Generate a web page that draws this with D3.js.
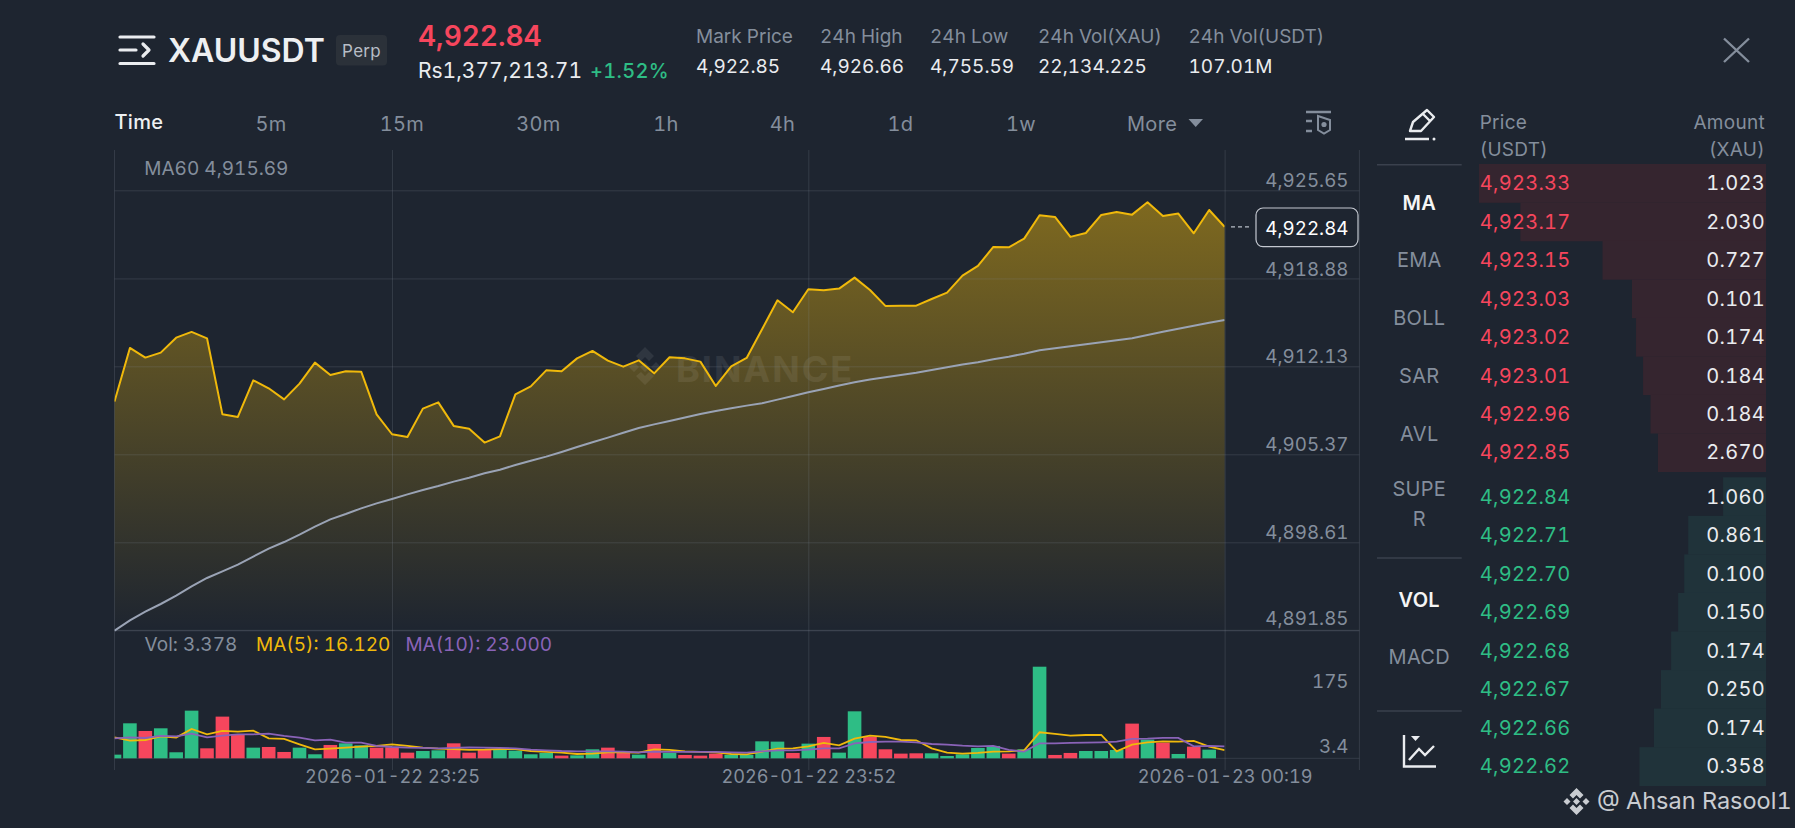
<!DOCTYPE html>
<html><head><meta charset="utf-8">
<script src="https://cdn.jsdelivr.net/npm/d3@7"></script>
<style>html,body{margin:0;padding:0;background:#1e2530;overflow:hidden}svg{display:block}text{font-family:Inter,"Noto Sans",sans-serif;font-feature-settings:"tnum";letter-spacing:.015em}</style>
</head><body><svg id="c" width="1795" height="828"></svg>
<script>
const price=[4909.42,4913.54,4912.80,4913.18,4914.33,4914.77,4914.28,4908.44,4908.24,4911.05,4910.44,4909.59,4910.80,4912.41,4911.46,4911.75,4911.72,4908.44,4906.91,4906.70,4908.88,4909.36,4907.55,4907.34,4906.27,4906.75,4909.98,4910.59,4911.82,4911.75,4912.74,4913.31,4912.57,4912.10,4912.59,4911.59,4912.82,4912.74,4912.49,4910.62,4912.13,4912.77,4914.97,4917.20,4916.28,4918.05,4917.97,4918.10,4918.94,4917.99,4916.77,4916.79,4916.79,4917.30,4917.79,4919.10,4919.84,4921.30,4921.27,4921.94,4923.73,4923.60,4922.07,4922.37,4923.76,4923.99,4923.78,4924.73,4923.68,4923.86,4922.35,4924.14,4922.84];
const ma60=[4891.82,4892.61,4893.28,4893.87,4894.51,4895.23,4895.87,4896.38,4896.89,4897.51,4898.12,4898.63,4899.20,4899.81,4900.37,4900.78,4901.22,4901.60,4901.94,4902.29,4902.63,4902.93,4903.27,4903.57,4903.91,4904.19,4904.55,4904.88,4905.19,4905.55,4905.93,4906.29,4906.65,4907.03,4907.39,4907.67,4907.93,4908.19,4908.47,4908.70,4908.90,4909.11,4909.29,4909.57,4909.85,4910.13,4910.39,4910.65,4910.90,4911.11,4911.29,4911.46,4911.64,4911.85,4912.05,4912.26,4912.44,4912.67,4912.87,4913.10,4913.36,4913.51,4913.67,4913.82,4913.97,4914.13,4914.28,4914.54,4914.79,4915.02,4915.25,4915.48,4915.69];
const vol=[7.1,68.0,53.1,58.3,11.7,92.6,19.4,81.0,45.3,20.7,22.0,12.3,20.7,7.8,25.9,29.1,25.3,20.7,21.4,11.0,14.2,15.5,29.1,11.0,17.5,17.5,14.9,7.8,10.4,5.2,5.8,17.5,20.7,14.2,7.1,27.8,10.4,6.5,5.2,9.1,6.5,6.5,33.0,32.4,10.4,28.5,41.5,11.0,91.3,42.1,17.5,9.1,9.7,9.7,4.5,7.8,20.1,24.0,9.1,17.5,178,6.5,10.4,14.2,14.2,16.2,67.4,36.3,30.4,8.4,22.7,16.8];
const volUp=[1,1,0,1,1,1,0,0,0,1,0,0,1,1,0,1,1,0,0,0,1,1,0,0,0,1,1,1,1,0,1,1,0,0,1,0,1,0,0,0,1,1,1,1,0,1,0,1,1,0,0,0,0,1,1,1,1,1,0,1,1,0,0,1,1,1,0,1,0,1,0,1];
const ma5=[40.8,34.3,35.6,42.7,40.2,57.0,46.6,53.1,51.8,53.8,38.9,37.6,27.2,17.5,18.8,20.7,22.7,24.0,27.2,24.0,20.7,18.8,18.1,16.2,16.8,18.1,18.1,14.2,12.3,11.0,8.4,9.1,11.7,11.7,11.0,17.5,16.2,13.6,12.3,11.7,8.4,7.8,13.0,18.8,19.4,23.3,29.8,25.3,38.2,44.0,41.5,35.6,35.0,19.4,11.0,9.1,10.4,13.0,13.6,15.5,50.5,47.3,44.0,45.3,45.3,13.6,26.6,31.1,33.0,32.4,33.7,22.7,16.12];
const ma10=[38.9,40.8,39.5,43.4,42.7,47.9,40.8,44.0,46.6,46.6,47.9,43.4,40.2,35.0,36.3,30.4,30.4,24.0,22.0,20.7,20.1,19.4,20.1,21.4,20.7,20.1,19.4,16.8,15.5,14.2,13.6,13.6,13.6,13.0,11.7,13.0,12.3,12.3,12.3,12.3,11.7,11.0,13.6,15.5,15.5,16.8,19.4,19.4,29.1,31.7,32.4,32.4,31.1,27.8,26.6,24.6,23.3,24.0,16.2,13.0,29.1,29.1,29.8,30.4,31.1,32.4,37.6,38.2,39.5,39.5,23.3,24.0,23.0];
const priceTicks=[4925.65,4918.88,4912.13,4905.37,4898.61,4891.85];
const timeTickIdx=[18,45,72];
const timeLabels=["2026-01-22 23:25","2026-01-22 23:52","2026-01-23 00:19"];
const askPrices=["4,923.33","4,923.17","4,923.15","4,923.03","4,923.02","4,923.01","4,922.96","4,922.85"];
const askAmounts=[1.023,2.030,0.727,0.101,0.174,0.184,0.184,2.670];
const bidPrices=["4,922.84","4,922.71","4,922.70","4,922.69","4,922.68","4,922.67","4,922.66","4,922.62"];
const bidAmounts=[1.060,0.861,0.100,0.150,0.174,0.250,0.174,0.358];
const intervals=["5m","15m","30m","1h","4h","1d","1w"];
const intervalX=[271,402,538.5,666,782.5,900.5,1021];
const stats=[["Mark Price","4,922.85"],["24h High","4,926.66"],["24h Low","4,755.59"],["24h Vol(XAU)","22,134.225"],["24h Vol(USDT)","107.01M"]];
const statX=[696,820,930,1038,1188.5];
const indicators=[["MA",202.3,1],["EMA",260,0],["BOLL",317.7,0],["SAR",375.7,0],["AVL",433.3,0],["SUPE",489,0],["R",519,0],["VOL",599.3,1],["MACD",657,0]];

const GREY="#848e9c",GRID="rgba(132,142,156,0.22)",RED="#f6465d",GREEN="#2ebd85",GOLD="#f0b90b",WHITE="#eaecef";
const svg=d3.select("#c");
const L=114.5,R=1224.6,RB=1359.4;
const x=d3.scaleLinear().domain([0,72]).range([L,R]);
const y=d3.scaleLinear().domain([4925.65,4891.85]).range([190.3,630.3]);
const yv=d3.scaleLinear().domain([0,178]).range([758.3,666.7]);
const defs=svg.append("defs");
const g=defs.append("linearGradient").attr("id","ga").attr("gradientUnits","userSpaceOnUse").attr("x1",0).attr("x2",0).attr("y1",210).attr("y2",630);
g.append("stop").attr("offset",0).attr("stop-color",GOLD).attr("stop-opacity",.45);
g.append("stop").attr("offset",1).attr("stop-color",GOLD).attr("stop-opacity",0);
defs.append("clipPath").attr("id","cl").append("rect").attr("x",L).attr("y",140).attr("width",R-L).attr("height",640);

function T(s,px,py,o={}){const t=svg.append("text").attr("x",px).attr("y",py).attr("dy",".36em").attr("text-anchor",o.a||"start").attr("font-size",o.s||19).attr("font-weight",o.w||400).attr("fill",o.c||GREY).text(s);if(o.ls!==undefined)t.style("letter-spacing",o.ls);return t;}

// chart
svg.append("path").datum(price).attr("fill","url(#ga)").attr("d",d3.area().x((d,i)=>x(i)).y0(y(4891.85)).y1(d=>y(d)));
// watermark
const wm=svg.append("g").attr("fill","#fff").attr("opacity",.075);
wm.append("path").attr("d","M645 347l9 9-5 5-4-4-4 4-5-5zM629 367l5-5 5 5-5 5zM661 367l-5-5-5 5 5 5zM645 362l5 5-5 5-5-5zM636 376l5-4 4 4 4-4 5 4-9 9z");
wm.append("text").attr("x",676).attr("y",369).attr("dy",".36em").attr("font-size",36).attr("font-weight",700).style("letter-spacing","2px").text("BINANCE");

// axes: horizontal price grid + labels
const ay=svg.append("g").attr("transform",`translate(${L},0)`).call(d3.axisRight(y).tickValues(priceTicks).tickSize(RB-L).tickFormat(d3.format(",.2f")));
ay.select(".domain").remove();
ay.selectAll("line").attr("stroke",GRID);
ay.selectAll("text").attr("x",1348.5-L).attr("dy",(d,i)=>i===5?"-.32em":"-.18em").attr("text-anchor","end").attr("font-size",18.8).attr("fill",GREY).attr("font-family","Inter").style("letter-spacing","0");
// time axis with vertical grid
const ax=svg.append("g").attr("transform","translate(0,770)").call(d3.axisBottom(x).tickValues(timeTickIdx).tickSize(-620).tickPadding(-1).tickFormat((d,i)=>timeLabels[i]));
ax.select(".domain").remove();
ax.selectAll("line").attr("stroke",GRID);
ax.selectAll("text").attr("y",0).attr("dy",".36em").attr("transform","translate(0,6.7)").attr("font-size",18.2).attr("fill",GREY).attr("font-family","Inter").style("letter-spacing","0");
[[L,L,150,770],[RB,RB,150,770],[L,RB,758.3,758.3],[L,RB,630.3,630.3]].forEach(a=>svg.append("line").attr("x1",a[0]).attr("x2",a[1]).attr("y1",a[2]).attr("y2",a[3]).attr("stroke",GRID));

const chart=svg.append("g").attr("clip-path","url(#cl)");
chart.append("path").datum(ma60).attr("fill","none").attr("stroke","#9aa3b5").attr("stroke-width",2).attr("d",d3.line().x((d,i)=>x(i)).y(d=>y(d)));
chart.append("path").datum(price).attr("fill","none").attr("stroke",GOLD).attr("stroke-width",2).attr("stroke-linejoin","round").attr("d",d3.line().x((d,i)=>x(i)).y(d=>y(d)));
chart.selectAll("rect.v").data(vol).join("rect").attr("class","v").attr("x",(d,i)=>x(i)-6.8).attr("width",13.6).attr("y",d=>yv(d)).attr("height",d=>yv(0)-yv(d)).attr("fill",(d,i)=>volUp[i]?GREEN:RED);
chart.append("path").datum(ma5).attr("fill","none").attr("stroke",GOLD).attr("stroke-width",1.8).attr("d",d3.line().x((d,i)=>x(i)).y(d=>yv(d)));
chart.append("path").datum(ma10).attr("fill","none").attr("stroke","#8a63b8").attr("stroke-width",1.8).attr("d",d3.line().x((d,i)=>x(i)).y(d=>yv(d)));

T("MA60 4,915.69",144.3,168.3,{s:19,ls:"0"});
T("Vol: 3.378",144.6,644.3,{s:19,ls:"0"});
T("MA(5): 16.120",256,644.3,{s:19,c:GOLD,ls:"0"});
T("MA(10): 23.000",405.4,644.3,{s:19,c:"#8a63b8",ls:"0"});
T("175",1348.5,681.7,{a:"end",s:18.8,ls:"0"});
T("3.4",1348.5,746.7,{a:"end",s:18.8,ls:"0"});
svg.append("line").attr("x1",1231).attr("x2",1252).attr("y1",y(4922.84)).attr("y2",y(4922.84)).attr("stroke","#b7bdc6").attr("stroke-width",1.2).attr("stroke-dasharray","4 3");
svg.append("rect").attr("x",1256).attr("y",208).attr("width",102).attr("height",38.6).attr("rx",7).attr("fill","#1e2530").attr("stroke","#c4c8d0").attr("stroke-width",1.2);
T("4,922.84",1348.5,228,{a:"end",s:18.8,c:"#fff",ls:"0"});

// header
const ic="#eaecef";
svg.append("path").attr("d","M120 37H154M120 50H136M120 63.5H154M143 44l6 6-6 6").attr("fill","none").attr("stroke",ic).attr("stroke-width",3.2).attr("stroke-linecap","round").attr("stroke-linejoin","round");
T("XAUUSDT",168,50.5,{s:32,w:600,c:"#eef0f2",ls:"0"});
svg.append("rect").attr("x",336).attr("y",35).attr("width",51).attr("height",30.5).attr("rx",4).attr("fill","#2b3139");
T("Perp",361.5,50.5,{a:"middle",s:17,c:"#b7bdc6"});
T("4,922.84",418,35.5,{s:28,w:600,c:RED,ls:"0"});
T("Rs1,377,213.71",418,70,{s:21,c:WHITE,ls:"0"});
T("+1.52%",590,70.5,{s:20,w:500,c:GREEN});
stats.forEach((s,i)=>{T(s[0],statX[i],35.7,{s:19,ls:"0"});T(s[1],statX[i],66,{s:19,c:WHITE,ls:"0"});});
svg.append("path").attr("d","M1724 38.5L1749 62M1749 38.5L1724 62").attr("stroke",GREY).attr("stroke-width",2.4).attr("fill","none");
T("Time",114.5,121.7,{s:20,w:500,c:"#eef0f2"});
intervals.forEach((s,i)=>T(s,intervalX[i],124,{a:"middle",s:20}));
T("More",1127,124,{s:20});
svg.append("path").attr("d","M1188.5 119H1203L1195.7 127Z").attr("fill",GREY);
svg.append("path").attr("d","M1306 112H1331M1306 121H1312M1306 131H1312").attr("stroke",GREY).attr("stroke-width",2.4).attr("fill","none");
svg.append("path").attr("d","M1318 116L1330 120V130L1324 133.500L1318 130Z").attr("fill","none").attr("stroke",GREY).attr("stroke-width",2);
svg.append("circle").attr("cx",1324).attr("cy",124.5).attr("r",2.6).attr("fill",GREY);
svg.append("path").attr("d","M1410 131L1413 122L1427 110L1434 117L1421 131ZM1423 114L1430 121M1405 139H1429").attr("fill","none").attr("stroke",ic).attr("stroke-width",2.4).attr("stroke-linejoin","round");
svg.append("circle").attr("cx",1434).attr("cy",139).attr("r",1.5).attr("fill",ic);

// indicator column
indicators.forEach(d=>T(d[0],1419.3,d[1],{a:"middle",s:20,w:d[2]?600:400,c:d[2]?"#f5f5f5":GREY}));
[164.7,558,711].forEach(v=>svg.append("line").attr("x1",1377).attr("x2",1461.7).attr("y1",v).attr("y2",v).attr("stroke","#3a414d").attr("stroke-width",1.4));
svg.append("path").attr("d","M1404 735V766.5H1436M1409 760L1419 749L1425 755L1434 746").attr("fill","none").attr("stroke",ic).attr("stroke-width",2.4);
svg.append("path").attr("d","M1411 736H1420L1415.500 741Z").attr("fill",ic);

// order book
T("Price",1479.7,121.7,{s:19});T("(USDT)",1479.7,149.3,{s:19});
T("Amount",1765,121.7,{a:"end",s:19});T("(XAU)",1765,149.3,{a:"end",s:19});
const depth=d3.scaleLinear().domain([0,7.093]).range([0,287]);
const BR=1766;
const askCum=Array.from(d3.cumsum(askAmounts.slice().reverse())).reverse();
const bidCum=Array.from(d3.cumsum(bidAmounts));
const rowAsk=d3.scaleLinear().domain([0,8]).range([164,471.7]);
const rowBid=d3.scaleLinear().domain([0,8]).range([477.3,785.7]);
svg.append("g").selectAll("rect").data(askCum).join("rect").attr("x",d=>BR-depth(d)).attr("width",d=>depth(d)).attr("y",(d,i)=>rowAsk(i)).attr("height",rowAsk(1)-rowAsk(0)+.3).attr("fill","#35252f");
svg.append("g").selectAll("rect").data(bidCum).join("rect").attr("x",d=>BR-depth(d)).attr("width",d=>depth(d)).attr("y",(d,i)=>rowBid(i)).attr("height",rowBid(1)-rowBid(0)+.3).attr("fill","#20333a");
askPrices.forEach((p,i)=>{const yy=rowAsk(i)+19;T(p,1479.7,yy,{s:20,c:RED});T(askAmounts[i].toFixed(3),1765,yy,{a:"end",s:20,c:WHITE});});
bidPrices.forEach((p,i)=>{const yy=rowBid(i)+19;T(p,1479.7,yy,{s:20,c:GREEN});T(bidAmounts[i].toFixed(3),1765,yy,{a:"end",s:20,c:WHITE});});

// credit
svg.append("path").attr("d","M1576.500 788l7 7-3.500 3.500-3.500-3.500-3.500 3.500-3.500-3.500zM1563.500 801.500l3.500-3.500 3.500 3.500-3.500 3.500zM1589.500 801.500l-3.500-3.500-3.500 3.500 3.500 3.500zM1576.500 798l3.500 3.500-3.500 3.500-3.500-3.500zM1569.500 808l3.500-3.500 3.500 3.500 3.500-3.500 3.500 3.500-7 7z").attr("fill","#c9ccd1");
T("@ Ahsan Rasool1",1597,801,{s:23.5,c:"#c9ccd1",ls:"0"}).attr("font-family","'Noto Sans'");
</script></body></html>
